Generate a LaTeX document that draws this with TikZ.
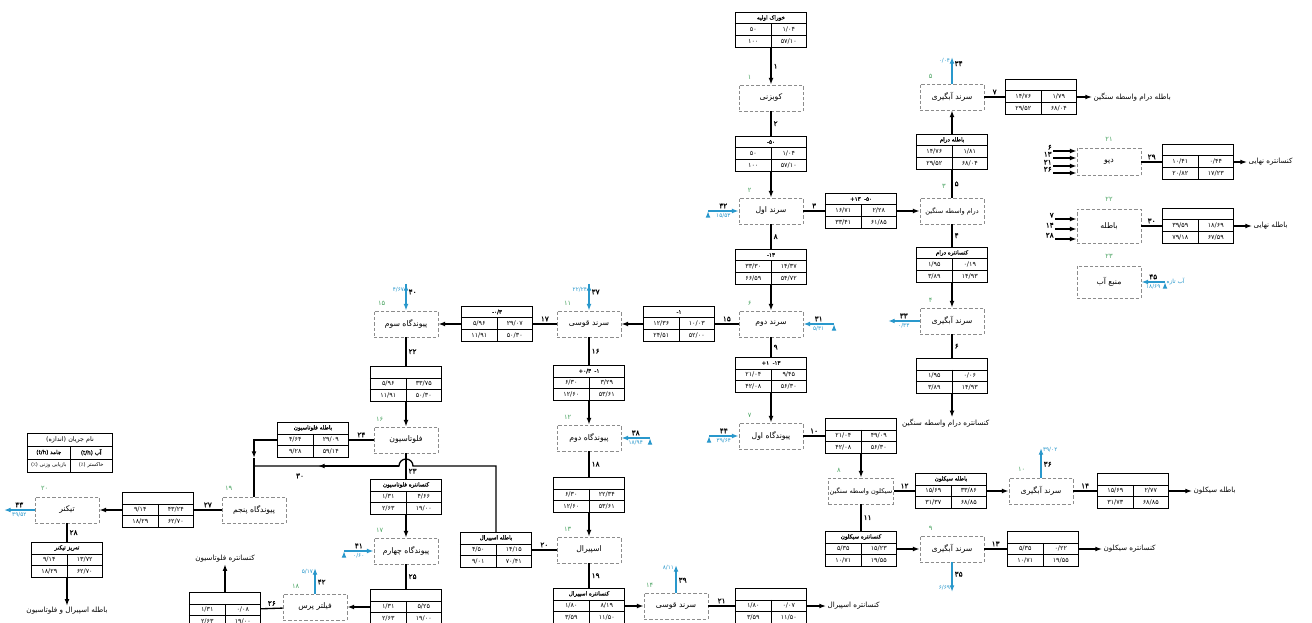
\documentclass[tikz,border=0pt]{standalone}
\usepackage{fontspec}
\usepackage{xcolor}
\usetikzlibrary{positioning, arrows.meta, calc}

\TeXXeTstate=1
\newfontfamily\persianfont[Script=Arabic]{DejaVu Sans}
\newfontfamily\persianbold[Script=Arabic, FakeBold=1.2]{DejaVu Sans}
\newfontfamily\signfont[FakeBold=1.2]{DejaVu Sans}

\definecolor{waterblue}{RGB}{41,152,204}
\definecolor{unitgreen}{RGB}{72,163,96}
\definecolor{dashgray}{RGB}{140,140,140}

\newcommand{\prs}[1]{\beginR #1\endR}
\newcommand{\ltr}[1]{\beginL #1\endL}
\newcommand{\sgn}[1]{{\signfont #1}}

% stream table: name, position, header, solid, water, recovery, ash
\newcommand{\streamtable}[7]{%
  \node (#1) [tab] at (#2) {};
  \draw [tabrule] ([yshift=-9pt]#1.north west) -- ([yshift=-9pt]#1.north east)
                  ([yshift=-17.6pt]#1.north west) -- ([yshift=-17.6pt]#1.north east)
                  ([yshift=-9pt]#1.north) -- (#1.south);
  \node (#1-h) [tabhead] at ([yshift=-4.6pt]#1.north) {#3};
  \node (#1-s) [tabnum] at ([xshift=-13.3pt, yshift=-13.3pt]#1.north) {#4};
  \node (#1-w) [tabnum] at ([xshift=13.3pt, yshift=-13.3pt]#1.north) {#5};
  \node (#1-r) [tabnum] at ([xshift=-13.3pt, yshift=-21.9pt]#1.north) {#6};
  \node (#1-a) [tabnum] at ([xshift=13.3pt, yshift=-21.9pt]#1.north) {#7};
}

\begin{document}
\begin{tikzpicture}[ x = 0.75pt
                   , y = -0.75pt
                   , >={Latex[width=3.6pt, length=5pt]}
                   , unitbox/.style = { rectangle
                                      , draw = dashgray
                                      , dash pattern = on 2.5pt off 1.5pt
                                      , line width = 0.6pt
                                      , fill = white
                                      , minimum width = 48pt
                                      , minimum height = 19.5pt
                                      , inner sep = 1pt
                                      , font = \persianfont\fontsize{5.8}{7}\selectfont }
                   , longname/.style = { font = \persianfont\fontsize{4.9}{6}\selectfont }
                   , tab/.style = { rectangle
                                  , draw = black
                                  , line width = 0.9pt
                                  , minimum width = 53.25pt
                                  , minimum height = 26.25pt
                                  , inner sep = 0pt }
                   , tabrule/.style = { line width = 0.6pt }
                   , tabhead/.style = { inner sep = 0pt, font = \persianbold\fontsize{4.2}{5}\selectfont }
                   , tabnum/.style = { inner sep = 0pt, font = \persianfont\fontsize{4.8}{5}\selectfont }
                   , flow/.style = { line width = 1pt }
                   , water/.style = { draw = waterblue, line width = 1.1pt }
                   , snum/.style = { inner sep = 1.5pt, font = \persianbold\fontsize{5.5}{6}\selectfont }
                   , unum/.style = { inner sep = 0pt, text = unitgreen, font = \persianfont\fontsize{5}{6}\selectfont }
                   , wnum/.style = { inner sep = 1pt, text = waterblue, font = \persianfont\fontsize{4.3}{5}\selectfont }
                   , outtext/.style = { inner sep = 1pt, font = \persianfont\fontsize{5.4}{6}\selectfont }
                   ]

  \useasboundingbox (0,0) rectangle (1312,623);
  \fill [white] (0,0) rectangle (1312,623);
  \clip (0,0) rectangle (1312,623);

  % units
  \node (crush) [unitbox] at (771,98) {\prs{کوبزنی}};
  \node (scr1) [unitbox] at (771,211) {\prs{سرند اول}};
  \node (drum) [unitbox, longname] at (952,211) {\prs{درام واسطه سنگین}};
  \node (dw5) [unitbox] at (952,97) {\prs{سرند آبگیری}};
  \node (dw4) [unitbox] at (952,321) {\prs{سرند آبگیری}};
  \node (scr2) [unitbox] at (771,324) {\prs{سرند دوم}};
  \node (pj1) [unitbox] at (771,436) {\prs{پیوندگاه اول}};
  \node (cyc) [unitbox, longname] at (861,491) {\prs{سیکلون واسطه سنگین}};
  \node (dw9) [unitbox] at (952,549) {\prs{سرند آبگیری}};
  \node (dw10) [unitbox] at (1041,491) {\prs{سرند آبگیری}};
  \node (sb11) [unitbox] at (589,324) {\prs{سرند قوسی}};
  \node (pj2) [unitbox] at (589,438) {\prs{پیوندگاه دوم}};
  \node (spir) [unitbox] at (589,550) {\prs{اسپیرال}};
  \node (sb14) [unitbox] at (676,606) {\prs{سرند قوسی}};
  \node (pj3) [unitbox] at (406,324) {\prs{پیوندگاه سوم}};
  \node (flot) [unitbox] at (406,440) {\prs{فلوتاسیون}};
  \node (pj4) [unitbox] at (406,551) {\prs{پیوندگاه چهارم}};
  \node (fp) [unitbox] at (315,607) {\prs{فیلتر پرس}};
  \node (pj5) [unitbox] at (254,510) {\prs{پیوندگاه پنجم}};
  \node (thick) [unitbox] at (67,510) {\prs{تیکنر}};
  \node (depot) [unitbox, minimum height = 20.25pt] at (1109,162) {\prs{دپو}};
  \node (tail) [unitbox, minimum height = 25.5pt] at (1109,226) {\prs{باطله}};
  \node (wsrc) [unitbox, minimum height = 24pt] at (1109,282) {\prs{منبع آب}};

  % unit numbers
  \node (g1) [unum] at ($(crush.north west)+(11,-7)$) {۱};
  \node (g2) [unum] at ($(scr1.north west)+(11,-7)$) {۲};
  \node (g3) [unum] at ($(drum.north)+(-8,-11)$) {۳};
  \node (g4) [unum] at ($(dw4.north west)+(11,-7)$) {۴};
  \node (g5) [unum] at ($(dw5.north west)+(11,-7)$) {۵};
  \node (g6) [unum] at ($(scr2.north west)+(11,-7)$) {۶};
  \node (g7) [unum] at ($(pj1.north west)+(11,-7)$) {۷};
  \node (g8) [unum] at ($(cyc.north west)+(11,-7)$) {۸};
  \node (g9) [unum] at ($(dw9.north west)+(11,-7)$) {۹};
  \node (g10) [unum] at ($(dw10.north west)+(13,-8)$) {۱۰};
  \node (g11) [unum] at ($(sb11.north west)+(11,-7)$) {۱۱};
  \node (g12) [unum] at ($(pj2.north west)+(11,-7)$) {۱۲};
  \node (g13) [unum] at ($(spir.north west)+(11,-7)$) {۱۳};
  \node (g14) [unum] at ($(sb14.north west)+(6,-7)$) {۱۴};
  \node (g15) [unum] at ($(pj3.north west)+(8,-7)$) {۱۵};
  \node (g16) [unum] at ($(flot.north west)+(6,-7)$) {۱۶};
  \node (g17) [unum] at ($(pj4.north west)+(6,-7)$) {۱۷};
  \node (g18) [unum] at ($(fp.north west)+(13,-7)$) {۱۸};
  \node (g19) [unum] at ($(pj5.north west)+(7,-8)$) {۱۹};
  \node (g20) [unum] at ($(thick.north west)+(10,-8)$) {۲۰};
  \node (g21) [unum] at ($(depot.north)+(0,-9)$) {۲۱};
  \node (g22) [unum] at ($(tail.north)+(0,-9)$) {۲۲};
  \node (g23) [unum] at ($(wsrc.north)+(0,-9)$) {۲۳};

  % stream tables
  \streamtable{t1}{771,30}{\prs{خوراک اولیه}}{۵۰}{۱/۰۴}{۱۰۰}{۵۷/۱۰}
  \streamtable{t2}{771,154}{\ltr{\sgn{-}۵۰}}{۵۰}{۱/۰۴}{۱۰۰}{۵۷/۱۰}
  \streamtable{t3}{861,211}{\ltr{\sgn{+}۱۳\hspace{2.5pt}\sgn{-}۵۰}}{۱۶/۷۱}{۲/۲۸}{۳۳/۴۱}{۶۱/۸۵}
  \streamtable{t5}{952,152}{\prs{باطله درام}}{۱۴/۷۶}{۱/۸۱}{۲۹/۵۲}{۶۸/۰۴}
  \streamtable{t7}{1041,97}{}{۱۴/۷۶}{۱/۷۹}{۲۹/۵۲}{۶۸/۰۴}
  \streamtable{t4}{952,265}{\prs{کنسانتره درام}}{۱/۹۵}{۰/۱۹}{۳/۸۹}{۱۴/۹۳}
  \streamtable{t6}{952,376}{}{۱/۹۵}{۰/۰۶}{۳/۸۹}{۱۴/۹۳}
  \streamtable{t8}{771,267}{\ltr{\sgn{-}۱۳}}{۳۳/۳۰}{۱۴/۳۷}{۶۶/۵۹}{۵۴/۷۲}
  \streamtable{t15}{679,324}{\ltr{\sgn{-}۱}}{۱۲/۳۶}{۱۰/۰۳}{۲۴/۵۱}{۵۲/۰۰}
  \streamtable{t9}{771,375}{\ltr{\sgn{+}۱\hspace{2.5pt}\sgn{-}۱۳}}{۲۱/۰۴}{۹/۴۵}{۴۲/۰۸}{۵۶/۳۰}
  \streamtable{t10}{861,436}{}{۲۱/۰۴}{۴۹/۰۹}{۴۲/۰۸}{۵۶/۳۰}
  \streamtable{t12}{951,491}{\prs{باطله سیکلون}}{۱۵/۶۹}{۳۳/۸۶}{۳۱/۳۷}{۶۸/۸۵}
  \streamtable{t14}{1133,491}{}{۱۵/۶۹}{۲/۷۷}{۳۱/۷۳}{۶۸/۸۵}
  \streamtable{t11}{861,549}{\prs{کنسانتره سیکلون}}{۵/۳۵}{۱۵/۲۳}{۱۰/۷۱}{۱۹/۵۵}
  \streamtable{t13}{1043,549}{}{۵/۳۵}{۰/۲۲}{۱۰/۷۱}{۱۹/۵۵}
  \streamtable{t16}{589,383}{\ltr{\sgn{+}۰/۳\hspace{2.5pt}\sgn{-}۱}}{۶/۳۰}{۳/۲۹}{۱۲/۶۰}{۵۳/۶۱}
  \streamtable{t17}{497,324}{\ltr{\sgn{-}۰/۳}}{۵/۹۶}{۲۹/۰۷}{۱۱/۹۱}{۵۰/۳۰}
  \streamtable{t22}{406,384}{}{۵/۹۶}{۳۳/۷۵}{۱۱/۹۱}{۵۰/۳۰}
  \streamtable{t18}{589,495}{}{۶/۳۰}{۲۲/۳۴}{۱۲/۶۰}{۵۳/۶۱}
  \streamtable{t20}{496,550}{\prs{باطله اسپیرال}}{۴/۵۰}{۱۴/۱۵}{۹/۰۱}{۷۰/۴۱}
  \streamtable{t19}{589,606}{\prs{کنسانتره اسپیرال}}{۱/۸۰}{۸/۱۹}{۳/۵۹}{۱۱/۵۰}
  \streamtable{t21}{771,606}{}{۱/۸۰}{۰/۰۷}{۳/۵۹}{۱۱/۵۰}
  \streamtable{t24}{313,440}{\prs{باطله فلوتاسیون}}{۴/۶۴}{۲۹/۰۹}{۹/۲۸}{۵۹/۱۴}
  \streamtable{t23}{406,497}{\prs{کنسانتره فلوتاسیون}}{۱/۳۱}{۴/۶۶}{۲/۶۳}{۱۹/۰۰}
  \streamtable{t25}{406,607}{}{۱/۳۱}{۵/۲۵}{۲/۶۳}{۱۹/۰۰}
  \streamtable{t26}{225,610}{}{۱/۳۱}{۰/۰۸}{۲/۶۳}{۱۹/۰۰}
  \streamtable{t27}{158,510}{}{۹/۱۴}{۴۳/۲۴}{۱۸/۲۹}{۶۲/۷۰}
  \streamtable{t28}{67,560}{\prs{ته‌ریز تیکنر}}{۹/۱۴}{۱۳/۷۲}{۱۸/۲۹}{۶۲/۷۰}
  \streamtable{t29}{1198,162}{}{۱۰/۴۱}{۰/۴۴}{۲۰/۸۲}{۱۷/۲۳}
  \streamtable{t30}{1198,226}{}{۳۹/۵۹}{۱۸/۶۹}{۷۹/۱۸}{۶۷/۵۹}

  % legend
  \node (legend) [tab, minimum width = 63.75pt, minimum height = 29.25pt] at (70,453) {};
  \draw [tabrule] ([yshift=-9.75pt]legend.north west) -- ([yshift=-9.75pt]legend.north east)
                  ([yshift=-19.5pt]legend.north west) -- ([yshift=-19.5pt]legend.north east)
                  ([yshift=-9.75pt]legend.north) -- (legend.south);
  \node (legend-h) [tabnum] at ([yshift=-4.9pt]legend.north) {\prs{نام جریان (اندازه)}};
  \node (legend-s) [tabhead] at ([xshift=-15.9pt, yshift=-14.6pt]legend.north) {\prs{جامد (t/h)}};
  \node (legend-w) [tabhead] at ([xshift=15.9pt, yshift=-14.6pt]legend.north) {\prs{آب (t/h)}};
  \node (legend-r) [tabnum, font = \persianfont\fontsize{3.9}{5}\selectfont] at ([xshift=-15.9pt, yshift=-24.4pt]legend.north) {\prs{بازیابی وزنی (٪)}};
  \node (legend-a) [tabnum, font = \persianfont\fontsize{3.9}{5}\selectfont] at ([xshift=15.9pt, yshift=-24.4pt]legend.north) {\prs{خاکستر (٪)}};

  % products
  \node (o7) [outtext, anchor = west] at (1092,97) {\prs{باطله درام واسطه سنگین}};
  \node (o6) [outtext, anchor = east] at (991,423) {\prs{کنسانتره درام واسطه سنگین}};
  \node (o29) [outtext, anchor = west] at (1247,162) {\prs{کنسانتره نهایی}};
  \node (o30) [outtext, anchor = west] at (1252,226) {\prs{باطله نهایی}};
  \node (o14) [outtext, anchor = west] at (1192,491) {\prs{باطله سیکلون}};
  \node (o13) [outtext, anchor = west] at (1102,549) {\prs{کنسانتره سیکلون}};
  \node (o21) [outtext, anchor = west] at (826,606) {\prs{کنسانتره اسپیرال}};
  \node (o26) [outtext] at (225,559) {\prs{کنسانتره فلوتاسیون}};
  \node (o28) [outtext] at (67,611) {\prs{باطله اسپیرال و فلوتاسیون}};

  % main line
  \draw[flow, ->] (t1) edge node [right, snum] {۱} (crush);
  \draw[flow] (crush) edge node [right, snum] {۲} (t2);
  \draw[flow, ->] (t2) edge (scr1);
  \draw[flow] (scr1) edge node [above, snum] {۳} (t3);
  \draw[flow, ->] (t3) edge (drum);
  \draw[flow] (drum) edge node [right, snum] {۵} (t5);
  \draw[flow, ->] (t5) edge (dw5);
  \draw[flow] (dw5) edge node [above, snum] {۷} (t7);
  \draw[flow, ->] (t7) edge (o7);
  \draw[flow] (drum) edge node [right, snum] {۴} (t4);
  \draw[flow, ->] (t4) edge (dw4);
  \draw[flow] (dw4) edge node [right, snum] {۶} (t6);
  \draw[flow, ->] (t6) -- (t6 |- o6.north);
  \draw[flow] (scr1) edge node [right, snum] {۸} (t8);
  \draw[flow, ->] (t8) edge (scr2);
  \draw[flow] (scr2) edge node [above, snum] {۱۵} (t15);
  \draw[flow, ->] (t15) edge (sb11);
  \draw[flow] (scr2) edge node [right, snum] {۹} (t9);
  \draw[flow, ->] (t9) edge (pj1);
  \draw[flow] (pj1) edge node [above, snum] {۱۰} (t10);
  \draw[flow, ->] (t10) edge (cyc);
  \draw[flow] (cyc) edge node [above, snum] {۱۲} (t12);
  \draw[flow, ->] (t12) edge (dw10);
  \draw[flow] (dw10) edge node [above, snum] {۱۴} (t14);
  \draw[flow, ->] (t14) edge (o14);
  \draw[flow] (cyc) edge node [right, snum] {۱۱} (t11);
  \draw[flow, ->] (t11) edge (dw9);
  \draw[flow] (dw9) edge node [above, snum] {۱۳} (t13);
  \draw[flow, ->] (t13) edge (o13);

  % fine circuit
  \draw[flow] (sb11) edge node [above, snum] {۱۷} (t17);
  \draw[flow, ->] (t17) edge (pj3);
  \draw[flow] (pj3) edge node [right, snum] {۲۲} (t22);
  \draw[flow, ->] (t22) edge (flot);
  \draw[flow] (sb11) edge node [right, snum] {۱۶} (t16);
  \draw[flow, ->] (t16) edge (pj2);
  \draw[flow] (pj2) edge node [right, snum] {۱۸} (t18);
  \draw[flow, ->] (t18) edge (spir);
  \draw[flow] (spir) edge node [right, snum] {۱۹} (t19);
  \draw[flow, ->] (t19) edge (sb14);
  \draw[flow] (sb14) edge node [above, snum] {۲۱} (t21);
  \draw[flow, ->] (t21) edge (o21);
  \draw[flow] (spir) edge node [above, snum] {۲۰} (t20);

  \draw[flow] (flot) edge node [above, snum] {۲۴} (t24);
  \draw[flow] (flot) edge node [right, snum, pos = 0.7] {۲۳} (t23);
  \draw[flow, ->] (t23) edge (pj4);
  \draw[flow] (pj4) edge node [right, snum] {۲۵} (t25);
  \draw[flow, ->] (t25) edge (fp);
  \draw[flow] (fp) edge node [above, snum] {۲۶} (t26);
  \draw[flow, ->] (t26) edge (o26);
  \draw[flow] (pj5) edge node [above, snum] {۲۷} (t27);
  \draw[flow, ->] (t27) edge (thick);
  \draw[flow] (thick) edge node [right, snum] {۲۸} (t28);
  \draw[flow, ->] (t28) edge (o28);

  % spiral tailings over to fifth junction
  \coordinate (hopR) at (413,466);
  \coordinate (hopL) at (399,466);
  \coordinate (a30) at (318,466);
  \coordinate (j30) at (254,466);
  \coordinate (j24) at (254,458);
  \draw[flow] (t20.north) |- (hopR) arc[start angle = 0, end angle = -180, radius = 7] -- (j30);
  \draw[flow, ->] (hopL) -- (a30);
  \node (n30) [snum] at (300,476) {۳۰};
  \draw[flow, ->] (t24.west) -| (j24);
  \draw[flow] (j24) -- (pj5);

  % depot and tailings inputs
  \coordinate (in6) at (1053,151);
  \coordinate (in13) at (1053,158);
  \coordinate (in21) at (1053,166);
  \coordinate (in26) at (1053,173);
  \draw[flow, ->] (in6) node (l6) [snum, anchor = south east, inner sep = 0.5pt] {۶} -- (in6 -| depot.west);
  \draw[flow, ->] (in13) node (l13) [snum, anchor = south east, inner sep = 0.5pt] {۱۳} -- (in13 -| depot.west);
  \draw[flow, ->] (in21) node (l21) [snum, anchor = south east, inner sep = 0.5pt] {۲۱} -- (in21 -| depot.west);
  \draw[flow, ->] (in26) node (l26) [snum, anchor = south east, inner sep = 0.5pt] {۲۶} -- (in26 -| depot.west);
  \coordinate (in7) at (1055,219);
  \coordinate (in14) at (1055,229);
  \coordinate (in28) at (1055,239);
  \draw[flow, ->] (in7) node (l7) [snum, anchor = south east, inner sep = 0.5pt] {۷} -- (in7 -| tail.west);
  \draw[flow, ->] (in14) node (l14) [snum, anchor = south east, inner sep = 0.5pt] {۱۴} -- (in14 -| tail.west);
  \draw[flow, ->] (in28) node (l28) [snum, anchor = south east, inner sep = 0.5pt] {۲۸} -- (in28 -| tail.west);
  \draw[flow] (depot) edge node [above, snum] {۲۹} (t29);
  \draw[flow, ->] (t29) edge (o29);
  \draw[flow] (tail) edge node [above, snum] {۳۰} (t30);
  \draw[flow, ->] (t30) edge (o30);

  % water streams
  \coordinate (w31) at (834,324);
  \coordinate (w32) at (708,211);
  \coordinate (w33) at (888,321);
  \coordinate (w34) at (952,57);
  \coordinate (w35) at (952,592);
  \coordinate (w36) at (1041,448);
  \coordinate (w37) at (589,284);
  \coordinate (w38) at (650,438);
  \coordinate (w39) at (676,565);
  \coordinate (w40) at (406,284);
  \coordinate (w41) at (344,551);
  \coordinate (w42) at (315,568);
  \coordinate (w43) at (4,510);
  \coordinate (w44) at (709,436);
  \coordinate (w45) at (1165,282);
  \draw[water, ->] (w31) edge node [above, snum] {۳۱} node [below, wnum] {۵/۳۱} (scr2);
  \draw[water, ->] (w32) edge node [above, snum] {۳۲} node [below, wnum] {۱۵/۵۳} (scr1);
  \draw[water, ->] (dw4) edge node [above, snum] {۳۳} node [below, wnum] {۰/۳۳} (w33);
  \draw[water, ->] (dw5) edge node [right, snum, pos = 0.75] {۳۴} node [left, wnum, pos = 0.85] {۰/۰۴} (w34);
  \draw[water, ->] (dw9) edge node [right, snum, pos = 0.4] {۳۵} node [left, wnum, pos = 0.85] {۶/۶۹} (w35);
  \draw[water, ->] (dw10) edge node [right, snum, pos = 0.45] {۳۶} node [right, wnum, pos = 0.95] {۳۹/۰۲} (w36);
  \draw[water, ->] (w37) edge node [right, snum, pos = 0.3] {۳۷} node [left, wnum, pos = 0.2] {۲۲/۲۴} (sb11);
  \draw[water, ->] (w38) edge node [above, snum] {۳۸} node [below, wnum] {۱۸/۹۴} (pj2);
  \draw[water, ->] (sb14) edge node [right, snum, pos = 0.45] {۳۹} node [left, wnum, pos = 0.9] {۸/۱۱} (w39);
  \draw[water, ->] (w40) edge node [right, snum, pos = 0.3] {۴۰} node [left, wnum, pos = 0.2] {۴/۶۷} (pj3);
  \draw[water, ->] (w41) edge node [above, snum] {۴۱} node [below, wnum] {۰/۶۰} (pj4);
  \draw[water, ->] (fp) edge node [right, snum, pos = 0.45] {۴۲} node [left, wnum, pos = 0.85] {۵/۱۷} (w42);
  \draw[water, ->] (thick) edge node [above, snum] {۴۳} node [below, wnum] {۳۹/۵۲} (w43);
  \draw[water, ->] (w44) edge node [above, snum] {۴۴} node [below, wnum] {۳۹/۶۴} (pj1);
  \draw[water, ->] (w45) edge node [above, snum] {۴۵} node [below, wnum] {۱۸/۶۹} (wsrc);
  \node (fresh) [wnum, anchor = west] at (w45) {\prs{آب تازه}};

\end{tikzpicture}
\end{document}
